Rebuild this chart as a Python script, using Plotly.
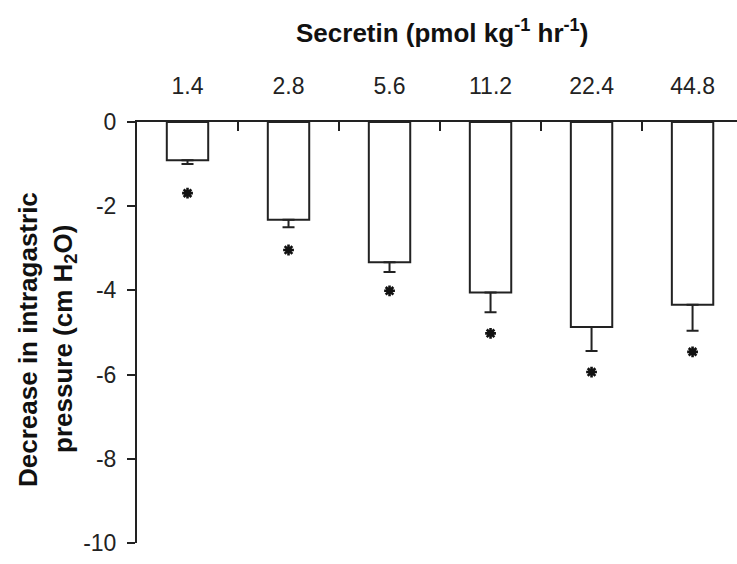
import plotly.graph_objects as go

categories = ["1.4", "2.8", "5.6", "11.2", "22.4", "44.8"]
values = [-0.91, -2.32, -3.33, -4.05, -4.87, -4.34]
errors = [0.09, 0.18, 0.23, 0.47, 0.57, 0.62]
asterisk_y = [-1.69, -3.04, -4.01, -5.02, -5.94, -5.46]
y_ticks = [0, -2, -4, -6, -8, -10]

W, H = 737, 564
L, R, T, B = 137, 0, 122, 21
plot_w = W - L - R
plot_h = H - T - B
font = "Arial, Liberation Sans, sans-serif"


def px_x(px):
    return (px - L) / plot_w


def px_y(py):
    return (H - B - py) / plot_h


fig = go.Figure()
fig.add_trace(go.Bar(
    x=categories, y=values, width=0.41,
    marker=dict(color="white", line=dict(color="#222", width=2)),
    error_y=dict(type="data", symmetric=False, array=[0] * len(values), arrayminus=errors,
                 color="#222", thickness=2, width=6),
    showlegend=False,
))
fig.add_trace(go.Scatter(
    x=categories, y=asterisk_y, mode="markers",
    marker=dict(symbol="asterisk-open", size=9, color="#111", line=dict(color="#111", width=2.6)),
    showlegend=False,
))

fig.update_layout(
    width=W, height=H,
    margin=dict(l=L, r=R, t=T, b=B),
    plot_bgcolor="white", paper_bgcolor="white",
    font=dict(family=font, color="#222"),
    xaxis=dict(
        type="category", side="top", range=[-0.5, 5.44],
        tickson="boundaries", ticks="inside", ticklen=9, tickwidth=2, tickcolor="#222",
        showline=True, linecolor="#222", linewidth=2, showgrid=False, zeroline=False,
        tickfont=dict(size=23, color="#222"), ticklabelstandoff=17,
    ),
    yaxis=dict(
        range=[-10, 0], tickmode="array", tickvals=y_ticks, ticktext=[str(v) for v in y_ticks],
        ticks="outside", ticklen=8, tickwidth=2, tickcolor="#222",
        showline=True, linecolor="#222", linewidth=2, showgrid=False, zeroline=False,
        tickfont=dict(size=23, color="#222"), ticklabelstandoff=6,
    ),
    annotations=[
        dict(text="<b>Secretin (pmol kg<sup>-1</sup> hr<sup>-1</sup>)</b>",
             x=px_x(442), y=px_y(32), xref="paper", yref="paper", showarrow=False,
             xanchor="center", yanchor="middle",
             font=dict(size=26, color="#111")),
        dict(text="<b>Decrease in intragastric</b>", textangle=-90,
             x=px_x(28), y=px_y(340), xref="paper", yref="paper", showarrow=False,
             xanchor="center", yanchor="middle",
             font=dict(size=26, color="#111")),
        dict(text="<b>pressure (cm H<sub>2</sub>O)</b>", textangle=-90,
             x=px_x(64), y=px_y(339), xref="paper", yref="paper", showarrow=False,
             xanchor="center", yanchor="middle",
             font=dict(size=26, color="#111")),
    ],
)

fig.write_html("out.html", config={"displayModeBar": False},
               post_script="document.body.style.margin='0';document.body.style.padding='0';")
